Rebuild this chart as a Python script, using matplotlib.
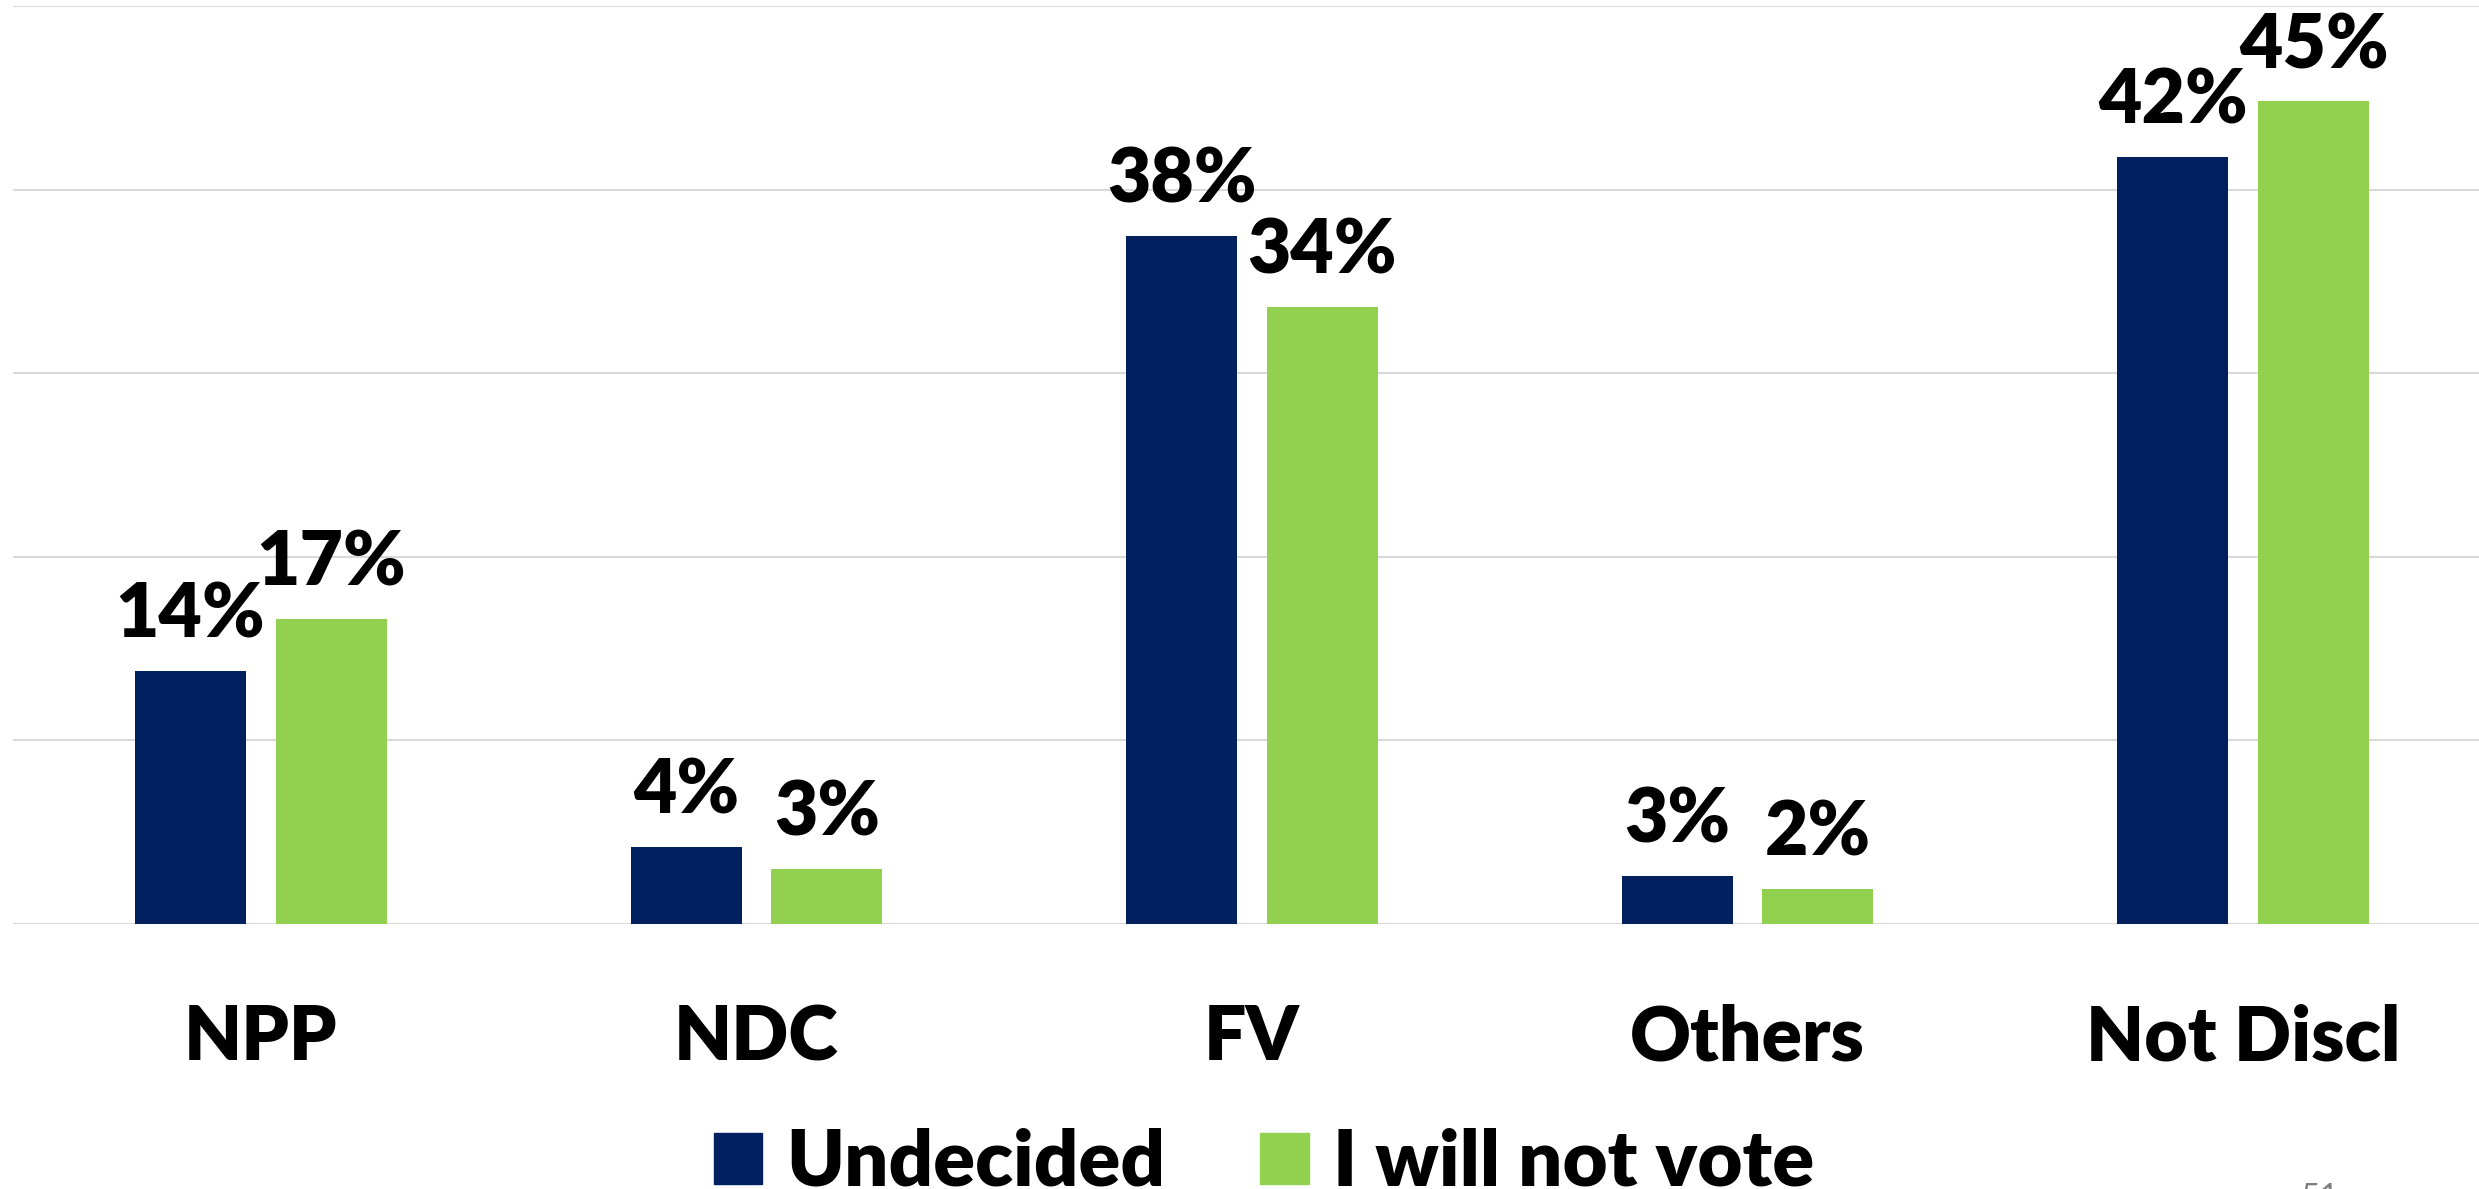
import numpy as np
import matplotlib
matplotlib.use('Agg')
import matplotlib.pyplot as plt
from matplotlib.patches import Patch

plt.rcParams['font.family'] = ['Lato', 'DejaVu Sans']

categorias = ['NPP', 'NDC', 'FV', 'Others', 'Not Discl']
undecided = [13.8, 4.2, 37.5, 2.6, 41.8]
nao_vota = [16.6, 3.0, 33.6, 1.9, 44.8]
rotulos_undecided = ['14%', '4%', '38%', '3%', '42%']
rotulos_nao_vota = ['17%', '3%', '34%', '2%', '45%']
series = ['Undecided', 'I will not vote']

azul = '#002060'
verde = '#92D050'
peso = 'heavy'

W, H = 2479, 1189
fig = plt.figure(figsize=(W / 100, H / 100), dpi=100)
# eixo em pixels: esquerda 13, base 924 (de cima), topo 6
ax = fig.add_axes([13 / W, (H - 924) / H, 2478 / W, (924 - 6) / H])

x = np.arange(len(categorias))
larg = 0.224
desl = 0.142

b1 = ax.bar(x - desl, undecided, larg, color=azul, zorder=3)
b2 = ax.bar(x + desl, nao_vota, larg, color=verde, zorder=3)

for barras, rotulos in [(b1, rotulos_undecided), (b2, rotulos_nao_vota)]:
    for r, txt in zip(barras, rotulos):
        ax.annotate(txt, (r.get_x() + r.get_width() / 2, r.get_height()),
                    xytext=(0, 24), textcoords='offset points',
                    ha='center', va='baseline', fontsize=54, fontweight=peso,
                    color='black', zorder=4)

ax.set_xlim(-0.5, 4.5)
ax.set_ylim(0, 50)
ax.set_yticks(np.arange(0, 51, 10))
ax.yaxis.grid(True, color='#D9D9D9', linewidth=1.5, zorder=0)
ax.set_yticklabels([])
ax.tick_params(axis='y', length=0)
for s in ax.spines.values():
    s.set_visible(False)

ax.set_xticks(x)
ax.set_xticklabels(categorias, fontsize=54, fontweight=peso)
ax.tick_params(axis='x', length=0, pad=98)
for lab in ax.get_xticklabels():
    lab.set_va('baseline')

handles = [Patch(color=azul), Patch(color=verde)]
fig.legend(handles, series, loc='center', bbox_to_anchor=(1264 / W, 26 / H),
           ncol=2, frameon=False, prop={'size': 56, 'weight': peso},
           handlelength=0.62, handleheight=0.63, handletextpad=0.31,
           columnspacing=1.22, borderpad=0, borderaxespad=0)

fig.text(2300 / W, (H - 1183) / H, '51', fontsize=24, color='#7F7F7F', va='top')

fig.savefig('out.png', dpi=100, facecolor='white')
